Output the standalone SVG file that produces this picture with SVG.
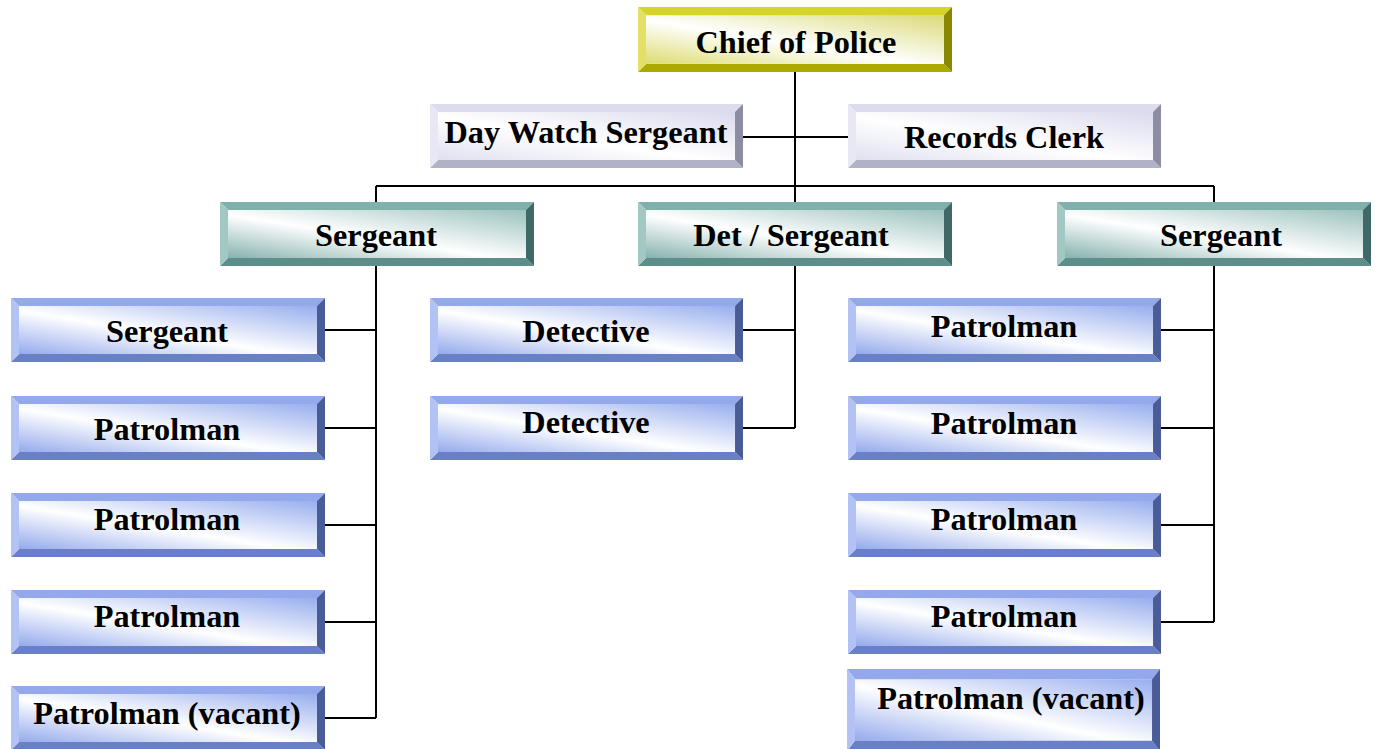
<svg xmlns="http://www.w3.org/2000/svg" xmlns:xlink="http://www.w3.org/1999/xlink" width="1379" height="749" viewBox="0 0 1379 749">
<style>
text{font-family:"Liberation Serif","Times New Roman",serif;font-weight:bold;font-size:32.3px;fill:#000;text-anchor:middle}
.conn{stroke:#000;stroke-width:2;fill:none}
</style>
<defs>
<linearGradient id="gY" x1="0" y1="1" x2="1" y2="0"><stop offset="0" stop-color="#dcdc70"/><stop offset="0.45" stop-color="#ffffff"/><stop offset="1" stop-color="#dada78"/></linearGradient>
<linearGradient id="gL" x1="0" y1="1" x2="1" y2="0"><stop offset="0" stop-color="#e0e0f0"/><stop offset="0.45" stop-color="#ffffff"/><stop offset="1" stop-color="#dadaee"/></linearGradient>
<linearGradient id="gT" x1="0" y1="1" x2="1" y2="0"><stop offset="0" stop-color="#86b2ae"/><stop offset="0.45" stop-color="#ffffff"/><stop offset="1" stop-color="#9cc2be"/></linearGradient>
<linearGradient id="gB" x1="0" y1="1" x2="1" y2="0"><stop offset="0" stop-color="#94aaec"/><stop offset="0.45" stop-color="#ffffff"/><stop offset="1" stop-color="#98aeee"/></linearGradient>
<symbol id="bY" viewBox="0 0 314 64" preserveAspectRatio="none">
<rect x="8" y="8" width="298" height="48" fill="url(#gY)"/>
<polygon points="0,0 314,0 306,8 8,8" fill="#d6d428"/>
<polygon points="0,64 314,64 306,56 8,56" fill="#acaa00"/>
<polygon points="0,0 8,8 8,56 0,64" fill="#e2e066"/>
<polygon points="314,0 306,8 306,56 314,64" fill="#8a8800"/>
</symbol>
<symbol id="bL" viewBox="0 0 314 64" preserveAspectRatio="none">
<rect x="8" y="8" width="298" height="48" fill="url(#gL)"/>
<polygon points="0,0 314,0 306,8 8,8" fill="#dcdcec"/>
<polygon points="0,64 314,64 306,56 8,56" fill="#b2b2c6"/>
<polygon points="0,0 8,8 8,56 0,64" fill="#e8e8f4"/>
<polygon points="314,0 306,8 306,56 314,64" fill="#8c8ca2"/>
</symbol>
<symbol id="bT" viewBox="0 0 314 64" preserveAspectRatio="none">
<rect x="8" y="8" width="298" height="48" fill="url(#gT)"/>
<polygon points="0,0 314,0 306,8 8,8" fill="#80b0aa"/>
<polygon points="0,64 314,64 306,56 8,56" fill="#5e8e89"/>
<polygon points="0,0 8,8 8,56 0,64" fill="#a2c8c4"/>
<polygon points="314,0 306,8 306,56 314,64" fill="#3f6966"/>
</symbol>
<symbol id="bB" viewBox="0 0 314 64" preserveAspectRatio="none">
<rect x="8" y="8" width="298" height="48" fill="url(#gB)"/>
<polygon points="0,0 314,0 306,8 8,8" fill="#94a8ec"/>
<polygon points="0,64 314,64 306,56 8,56" fill="#6a80c6"/>
<polygon points="0,0 8,8 8,56 0,64" fill="#b2c2f4"/>
<polygon points="314,0 306,8 306,56 314,64" fill="#4a5c98"/>
</symbol>
</defs>
<rect width="1379" height="749" fill="#fff"/>
<g id="connectors">
<path class="conn" d="M795 72V202M743 137H848M376 186H1214M376 186V202M1214 186V202"/>
<path class="conn" d="M376 266V718M325 330H376M325 428H376M325 525H376M325 622H376M325 718H376"/>
<path class="conn" d="M795 266V428M743 330H795M743 428H795"/>
<path class="conn" d="M1214 266V622M1161 330H1214M1161 428H1214M1161 525H1214M1161 622H1214"/>
</g>
<g id="chief"><use xlink:href="#bY" x="638" y="7" width="314" height="65"/><text x="796" y="53">Chief of Police</text></g>
<g id="daywatch"><use xlink:href="#bL" x="430" y="104" width="313" height="64"/><text x="586" y="143">Day Watch Sergeant</text></g>
<g id="records"><use xlink:href="#bL" x="848" y="104" width="313" height="64"/><text x="1004" y="148">Records Clerk</text></g>
<g id="sgtL"><use xlink:href="#bT" x="220" y="202" width="314" height="64"/><text x="376" y="246">Sergeant</text></g>
<g id="detsgt"><use xlink:href="#bT" x="638" y="202" width="314" height="64"/><text x="791" y="246">Det / Sergeant</text></g>
<g id="sgtR"><use xlink:href="#bT" x="1057" y="202" width="314" height="64"/><text x="1221" y="246">Sergeant</text></g>
<g id="l1"><use xlink:href="#bB" x="11" y="298" width="314" height="64"/><text x="167" y="342">Sergeant</text></g>
<g id="l2"><use xlink:href="#bB" x="11" y="396" width="314" height="64"/><text x="167" y="440">Patrolman</text></g>
<g id="l3"><use xlink:href="#bB" x="11" y="493" width="314" height="64"/><text x="167" y="530">Patrolman</text></g>
<g id="l4"><use xlink:href="#bB" x="11" y="590" width="314" height="64"/><text x="167" y="627">Patrolman</text></g>
<g id="l5"><use xlink:href="#bB" x="11" y="686" width="314" height="64"/><text x="167" y="724">Patrolman (vacant)</text></g>
<g id="d1"><use xlink:href="#bB" x="430" y="298" width="313" height="64"/><text x="586" y="342">Detective</text></g>
<g id="d2"><use xlink:href="#bB" x="430" y="396" width="313" height="64"/><text x="586" y="433">Detective</text></g>
<g id="r1"><use xlink:href="#bB" x="848" y="298" width="313" height="64"/><text x="1004" y="337">Patrolman</text></g>
<g id="r2"><use xlink:href="#bB" x="848" y="396" width="313" height="64"/><text x="1004" y="434">Patrolman</text></g>
<g id="r3"><use xlink:href="#bB" x="848" y="493" width="313" height="64"/><text x="1004" y="530">Patrolman</text></g>
<g id="r4"><use xlink:href="#bB" x="848" y="590" width="313" height="64"/><text x="1004" y="627">Patrolman</text></g>
<g id="r5"><use xlink:href="#bB" x="847" y="669" width="313" height="82"/><text x="1011" y="709">Patrolman (vacant)</text></g>
</svg>
